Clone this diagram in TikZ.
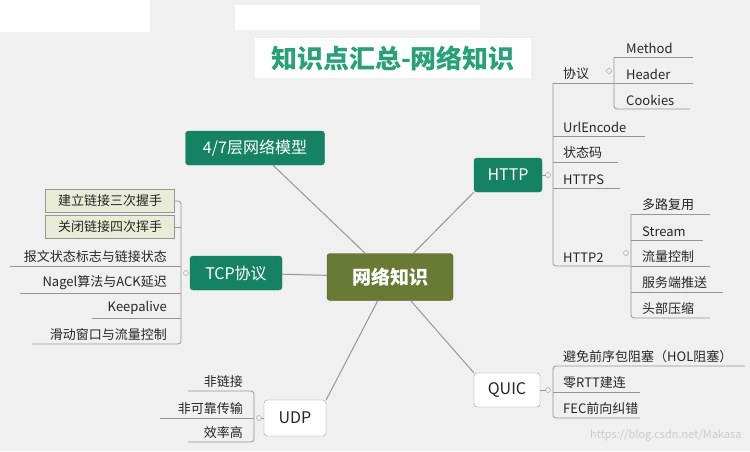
\documentclass[tikz,border=0pt]{standalone}
\usepackage{fontspec}
\setmainfont{Noto Sans CJK SC}
\definecolor{bgcol}{RGB}{240,240,240}
\definecolor{teal}{RGB}{22,130,100}
\definecolor{olive}{RGB}{104,122,52}
\definecolor{titlecol}{RGB}{40,160,120}
\definecolor{linecol}{RGB}{150,150,150}
\definecolor{boxfill}{RGB}{232,236,215}
\tikzset{
  topic/.style={draw=linecol, rounded corners=3pt, minimum height=34pt, inner sep=0pt, font=\fontsize{16}{18}\selectfont},
  green topic/.style={topic, fill=teal, text=white, draw=teal},
  white topic/.style={topic, fill=white, text=black!85},
  item/.style={inner sep=1pt, font=\fontsize{13}{15}\selectfont, text=black!85},
  uline/.style={draw=linecol, line width=0.8pt},
  knob/.style={draw=linecol, fill=bgcol, circle, inner sep=0pt, minimum size=5pt},
  link/.style={draw=linecol, line width=1pt}
}
\begin{document}
\begin{tikzpicture}[x=1pt, y=-1pt]
  \useasboundingbox (0,0) rectangle (750,451);
  \fill[bgcol] (0,0) rectangle (750,451);
  \fill[white] (0,0) rectangle (150,32);
  \fill[white] (235,5) rectangle (480,30);

  % title
  \node[fill=white, minimum width=276pt, minimum height=40pt, text=titlecol,
        font=\fontsize{26}{28}\selectfont\bfseries] (title) at (393,58) {知识点汇总-网络知识};

  % main topics
  \node[topic, fill=olive, draw=olive!70!black, text=white, minimum width=126pt, minimum height=47pt,
        font=\fontsize{19}{21}\selectfont\bfseries] (net) at (390,277) {网络知识};
  \node[green topic, minimum width=139pt] (model) at (255,148) {4/7层网络模型};
  \node[green topic, minimum width=68pt] (http) at (508,175) {HTTP};
  \node[green topic, minimum width=92pt] (tcp) at (236,273) {TCP协议};
  \node[white topic, minimum width=66pt] (quic) at (507,390) {QUIC};
  \node[white topic, minimum width=62pt, minimum height=36pt] (udp) at (295,418) {UDP};

  \draw[link] (net) -- (model);
  \draw[link] (net) -- (http.south west);
  \draw[link] (net) -- (tcp);
  \draw[link] (net) -- (quic.north west);
  \draw[link] (net) -- (udp.north east);

  % HTTP branch
  \draw[uline, rounded corners=3pt] (553,83) -- (553,266) -- (630,266);
  \draw[link] (http) -- (548,175);
  \node[knob] (httpk) at (548,175) {};
  \foreach \t/\y/\e in {协议/83/614, UrlEncode/136/645, 状态码/162/618, HTTPS/188/620} {
    \node[item, anchor=south west] at (562,\y-2) {\t};
    \draw[uline] (553,\y) -- (\e,\y);
  }
  \node[item, anchor=south west] (http2) at (562,264) {HTTP2};
  \draw[uline, rounded corners=3pt] (614,57) -- (614,109) -- (690,109);
  \node[knob] at (609,71) {};
  \foreach \t/\y/\e in {Method/57/693, Header/83/693} {
    \node[item, anchor=south west] at (625,\y-2) {\t};
    \draw[uline] (614,\y) -- (\e,\y);
  }
  \node[item, anchor=south west] at (625,107) {Cookies};
  \draw[uline, rounded corners=3pt] (631,214) -- (631,318) -- (710,318);
  \node[knob] at (626,253) {};
  \foreach \t/\y/\e in {多路复用/214/710, Stream/240/703, 流量控制/266/710, 服务端推送/292/723} {
    \node[item, anchor=south west] at (641,\y-2) {\t};
    \draw[uline] (631,\y) -- (\e,\y);
  }
  \node[item, anchor=south west] at (641,316) {头部压缩};

  % TCP branch
  \draw[uline, rounded corners=3pt] (170,201) -- (181,201) -- (181,344) -- (32,344);
  \draw[uline] (170,227) -- (181,227);
  \node[knob] (tcpk) at (186,273) {};
  \node[item, draw=linecol, fill=boxfill, minimum width=129pt, minimum height=23pt] (syn) at (110,201) {建立链接三次握手};
  \node[item, draw=linecol, fill=boxfill, minimum width=129pt, minimum height=23pt] (fin) at (110,227) {关闭链接四次挥手};
  \foreach \t/\y/\s in {报文状态标志与链接状态/266/10, Nagel算法与ACK延迟/293/20, Keepalive/318/92} {
    \node[item, anchor=south east] at (168,\y-2) {\t};
    \draw[uline] (\s,\y) -- (181,\y);
  }
  \node[item, anchor=south east] at (168,342) {滑动窗口与流量控制};

  % UDP branch
  \draw[uline, rounded corners=3pt] (188,391) -- (254,391) -- (254,442) -- (188,442);
  \draw[uline] (160,418) -- (254,418);
  \draw[link] (udp) -- (259,418);
  \node[knob] (udpk) at (259,418) {};
  \node[item, anchor=south east] at (244,389) {非链接};
  \node[item, anchor=south east] at (244,416) {非可靠传输};
  \node[item, anchor=south east] at (244,440) {效率高};

  % QUIC branch
  \draw[uline, rounded corners=3pt] (745,366) -- (553,366) -- (553,418) -- (640,418);
  \draw[uline] (553,392) -- (640,392);
  \draw[link] (quic) -- (548,390);
  \node[knob] (quick) at (548,390) {};
  \node[item, anchor=south west] at (562,364) {避免前序包阻塞（HOL阻塞）};
  \node[item, anchor=south west] at (562,390) {零RTT建连};
  \node[item, anchor=south west] at (562,416) {FEC前向纠错};

  \node[text=white!80!black, anchor=south east, font=\fontsize{11}{13}\selectfont] (mark) at (745,445) {https://blog.csdn.net/Makasa};
\end{tikzpicture}
\end{document}
